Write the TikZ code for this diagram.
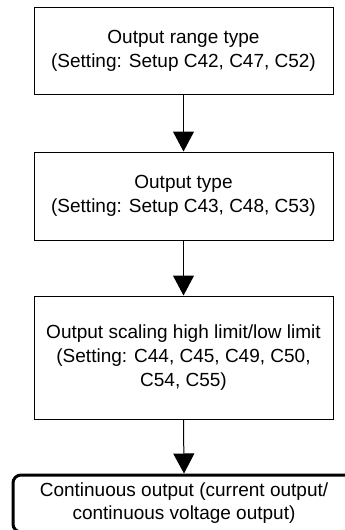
\documentclass[tikz,border=0pt]{standalone}
\usepackage{fontspec}
\setmainfont{Liberation Sans}
\usetikzlibrary{arrows.meta}
\begin{document}
\begin{tikzpicture}[x=1pt,y=-1pt,
  flowbox/.style={draw,line width=1pt,align=center,inner sep=0pt,minimum width=299pt,
    font=\fontsize{19}{24}\selectfont},
  endbox/.style={draw,line width=3pt,rounded corners=8pt,align=center,inner sep=0pt,
    minimum width=342pt,minimum height=57pt,font=\fontsize{19}{23}\selectfont},
  flowarrow/.style={line width=1pt,-{Triangle[length=20pt,width=21pt]}}]
\useasboundingbox (0,0) rectangle (345,530);
\node[flowbox,minimum height=87pt] (b1) at (183.5,50.5) {Output range type\\(Setting: Setup C42, C47, C52)};
\node[flowbox,minimum height=88pt] (b2) at (183.5,196) {Output type\\(Setting: Setup C43, C48, C53)};
\node[flowbox,minimum height=123pt] (b3) at (183.5,357.5) {Output scaling high limit/low limit\\(Setting: C44, C45, C49, C50,\\C54, C55)};
\node[endbox] (b4) at (184,503.5) {Continuous output (current output/\\continuous voltage output)};
\draw[flowarrow] (b1.south) -- (b2.north);
\draw[flowarrow] (b2.south) -- (b3.north);
\draw[flowarrow] (b3.south) -- (b4.north);
\end{tikzpicture}
\end{document}
